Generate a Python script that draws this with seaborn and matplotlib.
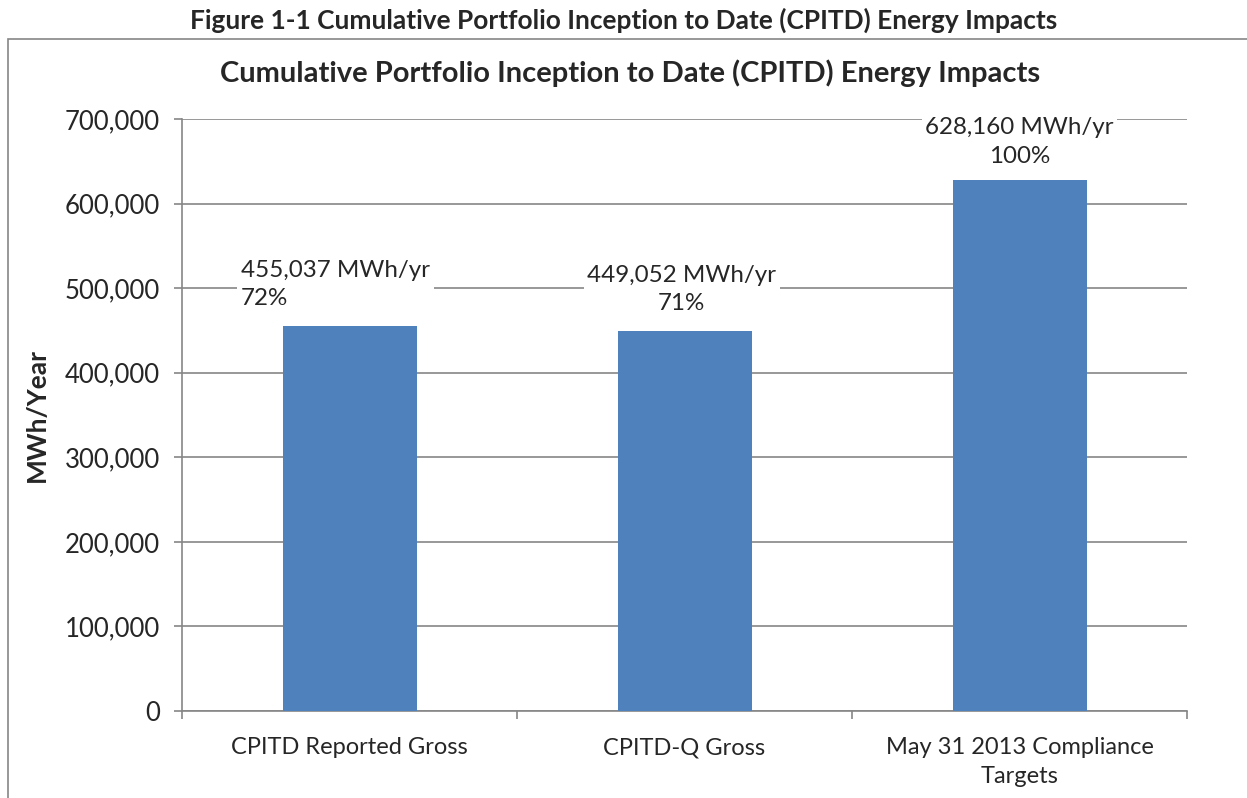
"""Bar chart of cumulative portfolio energy impacts."""

import matplotlib

matplotlib.use("Agg")

import matplotlib.pyplot as plt  # noqa: E402
import pandas as pd  # noqa: E402
import seaborn as sns  # noqa: E402
from matplotlib.patches import Rectangle  # noqa: E402
from matplotlib.ticker import FuncFormatter  # noqa: E402

# Data
categories = [
    "CPITD Reported Gross",
    "CPITD-Q Gross",
    "May 31 2013 Compliance\nTargets",
]
energy_mwh = [455037, 449052, 628160]
percent_of_target = ["72%", "71%", "100%"]

# Styling
sns.set_theme(style="white")
plt.rcParams["font.family"] = ["Lato", "DejaVu Sans"]

bar_color = "#4F81BD"
axis_gray = "#868686"

fig = plt.figure(figsize=(12.47, 7.98), dpi=100)
ax = fig.add_axes([182 / 1247, 1 - 711 / 798, 1005 / 1247, 592 / 798])

df = pd.DataFrame({"category": categories, "mwh": energy_mwh})
sns.barplot(data=df, x="category", y="mwh", color=bar_color, width=0.4,
            saturation=1, linewidth=0, ax=ax, zorder=3)

ax.set_xlim(-0.5, 2.5)
ax.set_ylim(0, 700000)
ax.set_yticks(range(0, 700001, 100000))
ax.yaxis.set_major_formatter(FuncFormatter(lambda v, _: f"{int(v):,}"))
ax.yaxis.grid(True, color=axis_gray, linewidth=1.2, zorder=0)
ax.set_axisbelow(True)

# Category boundary ticks on x axis
ax.set_xticks([-0.5, 0.5, 1.5, 2.5], minor=False)
ax.set_xticklabels([])
ax.set_xticks([0, 1, 2], minor=True)
ax.set_xticklabels(categories, minor=True, fontsize=17, linespacing=1.45)
ax.tick_params(axis="x", which="major", length=6, width=1.2, color=axis_gray,
               direction="out", bottom=True)
ax.tick_params(axis="x", which="minor", length=0, pad=19)
ax.tick_params(axis="y", length=6, width=1.2, color=axis_gray,
               direction="out", left=True, labelsize=18.5, pad=10)

for side in ["top", "right"]:
    ax.spines[side].set_visible(False)
for side in ["left", "bottom"]:
    ax.spines[side].set_color(axis_gray)
    ax.spines[side].set_linewidth(1.2)

ax.set_xlabel("")
ax.set_ylabel("MWh/Year", fontsize=19, fontweight="bold", labelpad=11)

# Data labels with white boxes above bars
x_shift = [-10, -2, 0]
y_shift = [30, 30, 27]
aligns = ["left", "center", "center"]
for i, (val, pct) in enumerate(zip(energy_mwh, percent_of_target)):
    ax.annotate(
        f"{val:,} MWh/yr\n{pct}",
        xy=(i, val),
        xytext=(x_shift[i], y_shift[i]),
        textcoords="offset points",
        ha="center",
        va="center",
        multialignment=aligns[i],
        fontsize=17.4,
        linespacing=1.45,
        bbox=dict(boxstyle="square,pad=0.15", facecolor="white",
                  edgecolor="none"),
        zorder=5,
        annotation_clip=False,
    )

fig.text(630 / 1247, 1 - 73 / 798,
         "Cumulative Portfolio Inception to Date (CPITD) Energy Impacts",
         fontsize=21, fontweight="bold", ha="center", va="center")

fig.text(0.5, 1 - 20 / 798,
         "Figure 1-1 Cumulative Portfolio Inception to Date (CPITD) Energy Impacts",
         fontsize=18.9, fontweight="bold", ha="center", va="center")

# Chart area border
fig.patches.append(Rectangle((8 / 1247, -0.1), 1.2, 1 - 39 / 798 + 0.1,
                             transform=fig.transFigure, fill=False,
                             edgecolor=axis_gray, linewidth=1.2))

fig.savefig("out.png", dpi=100)
plt.close(fig)
